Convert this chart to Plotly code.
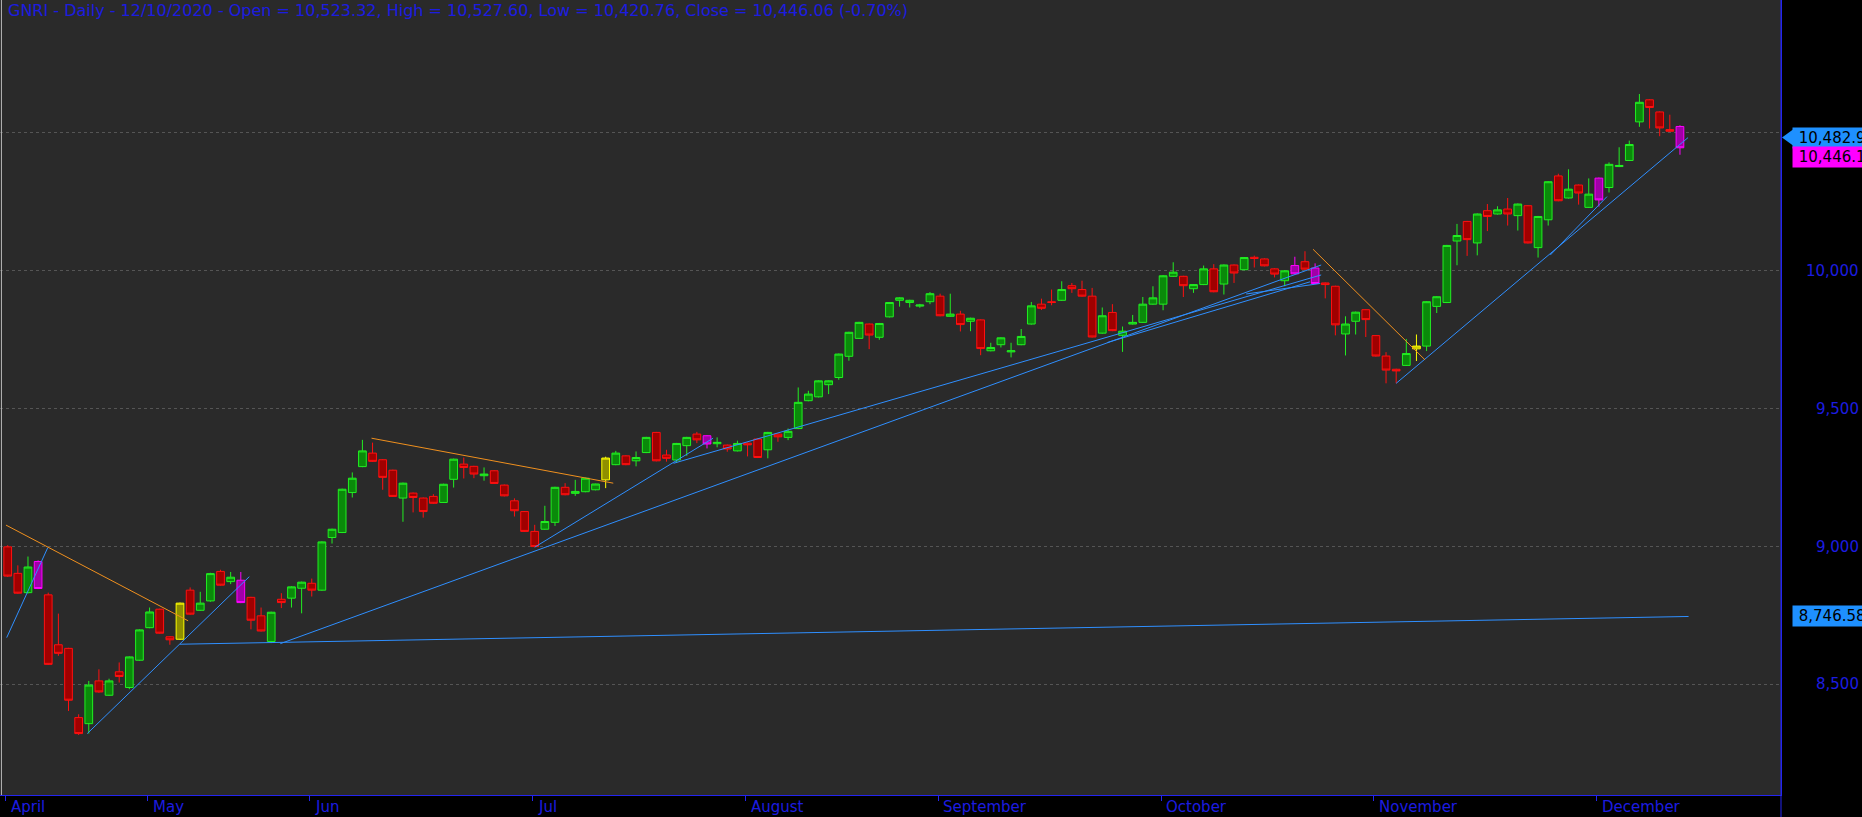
import plotly.graph_objects as go

TITLE = ("GNRI - Daily - 12/10/2020 - Open = 10,523.32, High = 10,527.60, "
         "Low = 10,420.76, Close = 10,446.06 (-0.70%)")

# ---- daily candles (bar index 0 = first visible bar in April) ----
OPEN = [8999, 8903, 8833, 8946, 8825, 8644, 8631, 8380, 8358, 8513,
        8461, 8546, 8489, 8588, 8706, 8773, 8673, 8664, 8842, 8769,
        8803, 8910, 8873, 8878, 8816, 8749, 8656, 8809, 8813, 8849,
        8867, 8842, 9033, 9051, 9196, 9290, 9339, 9315, 9277, 9176,
        9194, 9176, 9182, 9160, 9244, 9299, 9291, 9257, 9275, 9223,
        9166, 9127, 9055, 9063, 9088, 9215, 9193, 9199, 9206, 9242,
        9297, 9329, 9311, 9341, 9414, 9332, 9314, 9366, 9408, 9402,
        9373, 9368, 9347, 9375, 9390, 9351, 9408, 9396, 9428, 9529,
        9543, 9587, 9613, 9690, 9755, 9807, 9759, 9833, 9893, 9885,
        9872, 9888, 9908, 9835, 9843, 9817, 9822, 9710, 9732, 9706,
        9732, 9807, 9879, 9888, 9893, 9946, 9932, 9908, 9774, 9849,
        9766, 9807, 9813, 9879, 9879, 9980, 9980, 9935, 9950, 10007,
        9952, 10021, 10004, 10049, 10043, 10007, 9964, 10019, 10033, 10010,
        9956, 9944, 9771, 9817, 9859, 9765, 9691, 9643, 9657, 9717,
        9727, 9871, 9885, 10108, 10179, 10101, 10218, 10206, 10224, 10200,
        10236, 10084, 10185, 10344, 10264, 10311, 10230, 10336, 10302, 10378,
        10400, 10540, 10620, 10576, 10512, 10523.32]
HIGH = [9005, 8932, 8964, 8950, 8833, 8757, 8633, 8392, 8513, 8555,
        8521, 8580, 8602, 8700, 8779, 8775, 8675, 8797, 8852, 8836,
        8905, 8916, 8908, 8908, 8818, 8779, 8764, 8831, 8856, 8873,
        8884, 9019, 9065, 9210, 9269, 9387, 9377, 9317, 9279, 9232,
        9196, 9178, 9190, 9228, 9319, 9323, 9293, 9287, 9277, 9225,
        9175, 9129, 9079, 9148, 9217, 9230, 9242, 9250, 9228, 9326,
        9347, 9331, 9345, 9398, 9416, 9351, 9376, 9398, 9416, 9404,
        9396, 9370, 9384, 9377, 9392, 9416, 9410, 9428, 9577, 9565,
        9603, 9603, 9700, 9779, 9815, 9809, 9811, 9887, 9904, 9895,
        9880, 9923, 9917, 9917, 9855, 9830, 9824, 9739, 9759, 9739,
        9789, 9887, 9899, 9932, 9962, 9956, 9964, 9938, 9867, 9879,
        9798, 9840, 9905, 9944, 9984, 10031, 9982, 9952, 10019, 10024,
        10023, 10023, 10050, 10055, 10045, 10009, 10002, 10051, 10071, 10027,
        9958, 9946, 9835, 9852, 9861, 9767, 9705, 9645, 9753, 9769,
        9890, 9908, 10094, 10170, 10181, 10208, 10242, 10234, 10264, 10244,
        10238, 10199, 10325, 10352, 10368, 10313, 10335, 10338, 10393, 10448,
        10472, 10641, 10622, 10578, 10566, 10527.60]
LOW = [8890, 8829, 8830, 8846, 8571, 8604, 8404, 8317, 8322, 8470,
       8459, 8507, 8483, 8586, 8704, 8684, 8644, 8662, 8753, 8767,
       8800, 8858, 8864, 8795, 8700, 8692, 8650, 8777, 8779, 8758,
       8819, 8840, 9011, 9049, 9178, 9288, 9307, 9206, 9180, 9090,
       9124, 9105, 9155, 9158, 9214, 9247, 9248, 9239, 9227, 9182,
       9109, 9053, 8998, 9061, 9075, 9186, 9184, 9197, 9204, 9212,
       9295, 9295, 9291, 9339, 9309, 9308, 9305, 9329, 9375, 9356,
       9360, 9344, 9345, 9327, 9321, 9320, 9380, 9386, 9426, 9527,
       9541, 9553, 9605, 9674, 9753, 9716, 9750, 9831, 9870, 9867,
       9866, 9879, 9835, 9833, 9780, 9781, 9694, 9708, 9722, 9686,
       9730, 9805, 9858, 9875, 9891, 9920, 9906, 9758, 9772, 9781,
       9706, 9805, 9811, 9877, 9857, 9978, 9905, 9920, 9948, 9922,
       9914, 9956, 10002, 10012, 10016, 9976, 9944, 9987, 10004, 9952,
       9900, 9766, 9693, 9769, 9760, 9689, 9592, 9592, 9655, 9673,
       9709, 9847, 9883, 10020, 10054, 10056, 10144, 10204, 10164, 10146,
       10099, 10048, 10164, 10252, 10262, 10240, 10228, 10233, 10284, 10376,
       10398, 10522, 10516, 10488, 10504, 10420.76]
CLOSE = [8893, 8831, 8926, 8848, 8573, 8613, 8443, 8322, 8498, 8473,
         8513, 8529, 8600, 8698, 8763, 8686, 8662, 8795, 8755, 8795,
         8902, 8860, 8889, 8797, 8733, 8694, 8762, 8797, 8854, 8871,
         8842, 9017, 9063, 9208, 9248, 9347, 9309, 9251, 9182, 9230,
         9178, 9127, 9157, 9226, 9317, 9287, 9263, 9263, 9229, 9184,
         9130, 9055, 9000, 9091, 9215, 9188, 9200, 9248, 9227, 9321,
         9339, 9297, 9323, 9396, 9311, 9320, 9374, 9396, 9387, 9372,
         9378, 9354, 9374, 9369, 9323, 9414, 9398, 9418, 9523, 9553,
         9601, 9601, 9698, 9777, 9813, 9767, 9809, 9885, 9902, 9893,
         9876, 9917, 9837, 9843, 9805, 9828, 9718, 9722, 9757, 9710,
         9762, 9873, 9864, 9885, 9932, 9935, 9908, 9760, 9837, 9783,
         9781, 9813, 9879, 9902, 9982, 9995, 9946, 9950, 10007, 9924,
         10021, 9992, 10048, 10045, 10018, 9988, 10000, 9989, 10006, 9954,
         9950, 9804, 9807, 9850, 9823, 9691, 9640, 9637, 9700, 9727,
         9888, 9906, 10092, 10128, 10113, 10206, 10197, 10221, 10206, 10242,
         10101, 10197, 10323, 10254, 10296, 10282, 10278, 10257, 10386, 10382,
         10458, 10611, 10592, 10518, 10506, 10446.06]
# candle colour class: g = up, r = down, m = bearish reversal, y = bullish reversal
KIND = list(
    "rrgmrrrrgr" "grgggrryrg" "grgmrrgrgg" "rggggg" "rrrg"
    "rrrggrrgrr" "rrrggrgggy" "grggrrggrm" "grgrrgrggg"
    "gggggrgggg" "ggrgrgrggg" "ggrrgrrrgr" "ggggggrggr"
    "grgrrrgmrm" "rrggrrrrgy" "ggggrgrgrg" "rggrgrgmgg"
    "ggrrrm")

MONTH_LABELS = ["April", "May", "Jun", "Jul", "August", "September",
                "October", "November", "December"]
MONTH_FIRST_BAR = [0, 14, 30, 52, 73, 92, 114, 135, 157]

PRICE_TICKS = [8500, 9000, 9500, 10000, 10500]
PRICE_TICK_TEXT = ["8,500", "9,000", "9,500", "10,000", ""]

# trendlines: (start bar, start price, end bar, end price)
SUPPORT_LINES = [
    (-0.1, 8670, 3.95, 8996),
    (7.85, 8322, 23.84, 8891),
    (17.0, 8646, 165.85, 8746.58),
    (26.9, 8648, 129.6, 10021),
    (52.0, 8998, 69.6, 9393),
    (65.7, 9302, 129.6, 9985),
    (108.5, 9740, 128.5, 9960),
    (122.2, 9916, 129.5, 9954),
    (137.0, 9592, 165.8, 10482.96),
    (152.2, 10057, 157.8, 10269),
]
RESISTANCE_LINES = [
    (-0.17, 9078, 17.8, 8731),
    (35.9, 9393, 59.75, 9230),
    (128.8, 10078, 139.85, 9677),
]

# price tags on the right axis: (text, value, background)
PRICE_TAGS = [
    (" 10,482.9", 10482.96, "#1e90ff"),
    (" 10,446.1", 10446.06, "#ff00ff"),
    (" 8,746.58", 8746.58, "#1e90ff"),
]

STYLE = {
    "g": ("#0a8a0a", "#22ee22"),
    "r": ("#a00000", "#ff1010"),
    "m": ("#a000a8", "#ff00ff"),
    "y": ("#8f8f00", "#ffff00"),
}

W, H = 1862, 817
ML, MR, MT, MB = 0, 81, 0, 22
PW, PH = W - ML - MR, H - MT - MB
XMIN, XMAX = -0.76, 174.97
YMIN, YMAX = 8099.3, 10981.9
BLUE_TXT = "#1c1ce0"
AXIS_BLUE = "#2424f0"

fig = go.Figure()

bars = list(range(len(OPEN)))
for kind, (fill, line) in STYLE.items():
    idx = [i for i in bars if i < len(KIND) and KIND[i] == kind]
    if not idx:
        continue
    fig.add_trace(go.Candlestick(
        x=[bars[i] for i in idx],
        open=[OPEN[i] for i in idx], high=[HIGH[i] for i in idx],
        low=[LOW[i] for i in idx], close=[CLOSE[i] for i in idx],
        increasing=dict(fillcolor=fill, line=dict(color=line, width=1)),
        decreasing=dict(fillcolor=fill, line=dict(color=line, width=1)),
        whiskerwidth=0, showlegend=False, hoverinfo="skip"))

for x0, p0, x1, p1 in SUPPORT_LINES:
    fig.add_trace(go.Scatter(x=[x0, x1], y=[p0, p1], mode="lines",
                             line=dict(color="#2f8fff", width=1),
                             showlegend=False, hoverinfo="skip"))
for x0, p0, x1, p1 in RESISTANCE_LINES:
    fig.add_trace(go.Scatter(x=[x0, x1], y=[p0, p1], mode="lines",
                             line=dict(color="#f0901e", width=1),
                             showlegend=False, hoverinfo="skip"))

annotations = []
annotations.append(dict(text=TITLE, xref="paper", yref="paper", x=6 / PW, y=1,
                        xanchor="left", yanchor="top", showarrow=False, yshift=1,
                        font=dict(family="DejaVu Sans", size=16, color=BLUE_TXT)))
for v, t in zip(PRICE_TICKS, PRICE_TICK_TEXT):
    if t:
        annotations.append(dict(text=t, xref="paper", yref="y", x=(W - 1) / PW, y=v,
                                xanchor="right", yanchor="middle", showarrow=False,
                                font=dict(family="DejaVu Sans", size=15, color=BLUE_TXT)))
tick_pos = [b - 0.2 for b in MONTH_FIRST_BAR]
for b, t in zip(tick_pos, MONTH_LABELS):
    annotations.append(dict(text=t, xref="x", yref="paper", x=b, y=0,
                            xanchor="left", yanchor="top", showarrow=False,
                            xshift=3, yshift=-1,
                            font=dict(family="DejaVu Sans", size=15, color=BLUE_TXT)))
tag_shift = [0, -9, 0]
for (t, v, bg), sh in zip(PRICE_TAGS, tag_shift):
    annotations.append(dict(text=t, xref="paper", yref="y", x=1792 / PW, y=v,
                            xanchor="left", yanchor="middle", showarrow=False,
                            yshift=sh, bgcolor=bg, borderpad=1,
                            font=dict(family="DejaVu Sans", size=15, color="#000000")))

px_per_price = PH / (YMAX - YMIN)
tri_h = 8 / px_per_price
t0 = PRICE_TAGS[0]
shapes = [
    dict(type="path", xref="paper", yref="y",
         path=(f"M {1782 / PW},{t0[1]} L {1793 / PW},{t0[1] + tri_h} "
               f"L {1793 / PW},{t0[1] - tri_h} Z"),
         fillcolor=t0[2], line=dict(width=0)),
    dict(type="line", xref="paper", yref="paper", x0=1, x1=1, y0=-MB / PH, y1=1,
         line=dict(color=AXIS_BLUE, width=1)),
    dict(type="line", xref="paper", yref="paper", x0=0.0008, x1=0.0008, y0=0, y1=1,
         line=dict(color="#b8b8b8", width=1)),
]

fig.update_layout(
    width=W, height=H,
    margin=dict(l=ML, r=MR, t=MT, b=MB, pad=0),
    paper_bgcolor="#000000", plot_bgcolor="#2a2a2a",
    boxgap=0.24, boxgroupgap=0, boxmode="overlay",
    annotations=annotations, shapes=shapes,
    xaxis=dict(range=[XMIN, XMAX], rangeslider=dict(visible=False),
               showgrid=False, zeroline=False, showline=True,
               linecolor=AXIS_BLUE, linewidth=1,
               tickvals=tick_pos, ticks="outside", ticklen=5,
               tickcolor=AXIS_BLUE, showticklabels=False, fixedrange=True),
    yaxis=dict(range=[YMIN, YMAX], side="right", showgrid=True,
               gridcolor="#555555", griddash="dot", gridwidth=1,
               tickvals=PRICE_TICKS, showticklabels=False, ticks="",
               zeroline=False, showline=True, linecolor=AXIS_BLUE,
               fixedrange=True),
    showlegend=False,
)

fig.write_html("out.html",
               config={"displayModeBar": False},
               post_script="document.body.style.margin='0px';"
                           "document.body.style.overflow='hidden';"
                           "document.body.style.background='#000000';")
